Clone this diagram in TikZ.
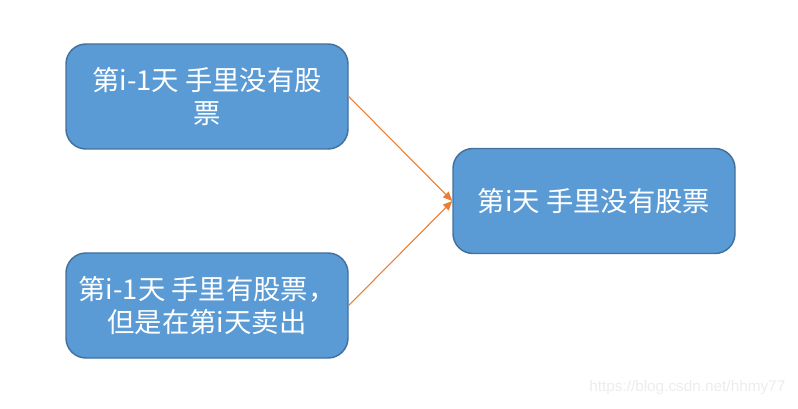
\documentclass[tikz,border=0pt]{standalone}
\usepackage{fontspec}
\newfontfamily\cjk{Noto Sans CJK SC}
\newfontfamily\wmfont{Liberation Sans}
\usetikzlibrary{arrows.meta}

\begin{document}
\begin{tikzpicture}[
    x=0.75pt, y=-0.75pt,
    >={Triangle[length=7pt, width=6pt]},
]

\definecolor{box_fill}{RGB}{91,155,213}
\definecolor{box_line}{RGB}{65,113,156}
\definecolor{arrow_color}{RGB}{237,125,49}
\definecolor{mark_color}{RGB}{236,236,236}

\tikzstyle{state} = [rectangle, rounded corners=15pt, minimum width=211.5pt, minimum height=78.75pt, align=center, fill=box_fill, draw=box_line, line width=1.1pt, text=white, font=\cjk\fontsize{20.5}{24.5}\selectfont, inner sep=2pt]
\tikzstyle{trans} = [->, draw=arrow_color, fill=arrow_color, line width=.8pt]

\useasboundingbox (0,0) rectangle (798,409);

\node (hold0) [state] at (207,96.5) {第i-1天 手里没有股\\票};
\node (sold) [state] at (207,305.5) {第i-1天 手里有股票，\\但是在第i天卖出};
\node (today) [state] at (594,201) {第i天 手里没有股票};

\draw[trans] (hold0.east) -- (today.west);
\draw[trans] (sold.east) -- (today.west);

\node (mark) [text=mark_color, font=\wmfont\fontsize{11.5}{13}\selectfont, anchor=east] at (790,388) {https://blog.csdn.net/hhmy77};

\end{tikzpicture}
\end{document}
